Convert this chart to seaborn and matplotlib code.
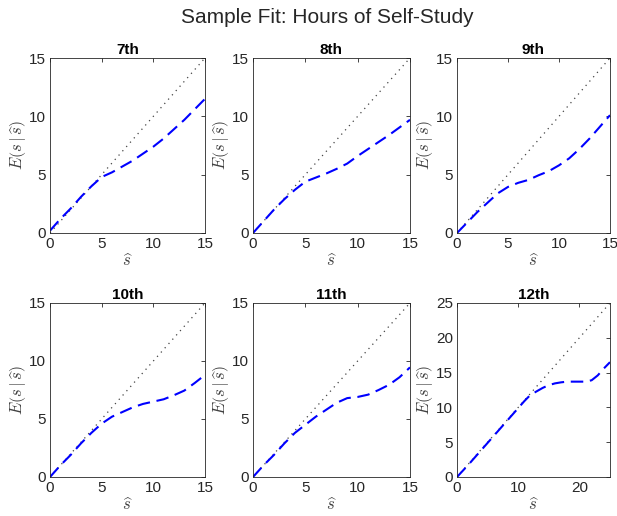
import numpy as np
import pandas as pd
import matplotlib
matplotlib.use("Agg")
import matplotlib.pyplot as plt
import seaborn as sns

sns.set_style("white")
plt.rcParams['font.family'] = ['Liberation Sans', 'DejaVu Sans']
plt.rcParams['mathtext.fontset'] = 'cm'

grades = ["7th", "8th", "9th", "10th", "11th", "12th"]

x15 = list(range(0, 16))
y_7th = [0.2, 1.2, 2.1, 3.1, 4.0, 4.8, 5.2, 5.7, 6.2, 6.8, 7.4, 8.1, 8.9, 9.7, 10.6, 11.5]
y_8th = [0.0, 1.0, 2.0, 2.9, 3.7, 4.4, 4.75, 5.1, 5.5, 5.95, 6.6, 7.2, 7.8, 8.4, 9.05, 9.7]
y_9th = [0.0, 0.9, 1.8, 2.6, 3.4, 3.95, 4.3, 4.55, 4.95, 5.3, 5.8, 6.4, 7.2, 8.1, 9.1, 10.1]
y_10th = [0.0, 1.0, 1.9, 2.9, 3.8, 4.6, 5.2, 5.6, 6.0, 6.3, 6.5, 6.7, 7.05, 7.45, 8.1, 8.8]
y_11th = [0.0, 1.0, 1.9, 2.9, 3.8, 4.5, 5.2, 5.8, 6.4, 6.8, 6.9, 7.1, 7.5, 7.95, 8.6, 9.45]
x25 = list(range(0, 26))
y_12th = [0.0, 0.95, 1.9, 2.9, 3.9, 4.9, 5.9, 6.9, 7.9, 8.9, 9.9, 10.9, 11.8, 12.3, 12.8,
          13.2, 13.45, 13.6, 13.7, 13.7, 13.7, 13.7, 13.9, 14.6, 15.6, 16.5]

xs = [x15, x15, x15, x15, x15, x25]
ys = [y_7th, y_8th, y_9th, y_10th, y_11th, y_12th]
limits = [15, 15, 15, 15, 15, 25]
xticks = [[0, 5, 10, 15]] * 5 + [[0, 10, 20]]
yticks = [[0, 5, 10, 15]] * 5 + [[0, 5, 10, 15, 20, 25]]

W, H = 617, 516
fig = plt.figure(figsize=(W / 100, H / 100), dpi=100)

lefts = [50, 253, 457]
widths = [155, 157, 153]
row_tb = [(58, 233), (303, 477)]

for i, g in enumerate(grades):
    r, c = divmod(i, 3)
    top, bot = row_tb[r]
    ax = fig.add_axes([lefts[c] / W, (H - bot) / H, widths[c] / W, (bot - top) / H])
    lim = limits[i]
    diag = pd.DataFrame({"x": [0, lim], "y": [0, lim]})
    sns.lineplot(data=diag, x="x", y="y", ax=ax, color="#444444", lw=0.9,
                 linestyle=(0, (1, 3.6)))
    df = pd.DataFrame({"x": xs[i], "y": ys[i]})
    sns.lineplot(data=df, x="x", y="y", ax=ax, color="#0000ff", lw=1.5,
                 linestyle=(0, (6, 3.2)))
    ax.set_xlim(0, lim)
    ax.set_ylim(0, lim)
    ax.set_xticks(xticks[i])
    ax.set_yticks(yticks[i])
    ax.set_title(g, fontsize=11, fontweight="bold", pad=3, color="black")
    ax.set_xlabel(r"$\widehat{s}$", fontsize=12, color="#404040", labelpad=1)
    ax.set_ylabel(r"$E\left(s\,|\,\widehat{s}\right)$", fontsize=12, color="#404040", labelpad=0)
    ax.tick_params(direction="in", length=3, width=0.6, top=True, right=True,
                   labelsize=11, labelcolor="#262626", color="#262626", pad=3)
    for sp in ax.spines.values():
        sp.set_color("#262626")
        sp.set_linewidth(0.6)

fig.suptitle("Sample Fit: Hours of Self-Study", fontsize=15, y=0.985, x=0.53)
fig.savefig("out.png", dpi=100, facecolor="white")
